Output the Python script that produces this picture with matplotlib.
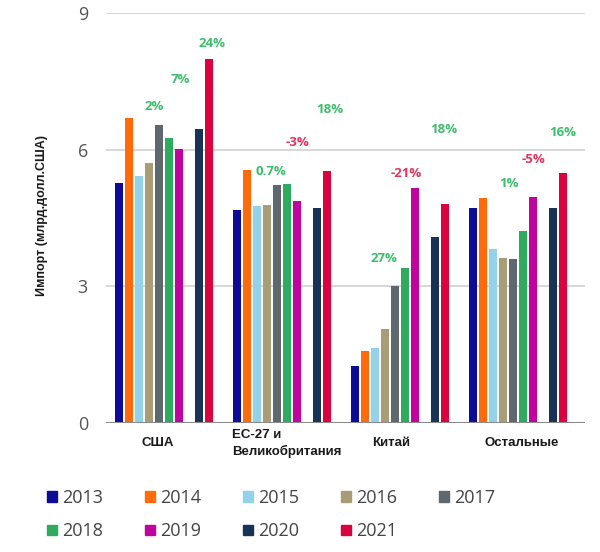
import matplotlib.pyplot as plt
from matplotlib.patches import Patch

# data
regions = ["США", "ЕС-27 и\nВеликобритания", "Китай", "Остальные"]
years = ["2013", "2014", "2015", "2016", "2017", "2018", "2019", "2020", "2021"]
usa = [5.26, 6.69, 5.42, 5.70, 6.54, 6.25, 6.01, 6.45, 8.00]
eu = [4.67, 5.55, 4.76, 4.78, 5.22, 5.24, 4.87, 4.71, 5.53]
china = [1.25, 1.58, 1.64, 2.06, 3.00, 3.40, 5.15, 4.08, 4.80]
other = [4.71, 4.93, 3.81, 3.62, 3.60, 4.21, 4.96, 4.73, 5.48]
values = [usa, eu, china, other]

# growth labels per region: (text, x offset in group, y)
growth = [
    [("2%", -0.085, 6.95), ("7%", 0.136, 7.54), ("24%", 0.407, 8.33)],
    [("0.7%", -0.093, 5.53), ("-3%", 0.136, 6.16), ("18%", 0.407, 6.89)],
    [("27%", -0.136, 3.62), ("-21%", 0.059, 5.48), ("18%", 0.373, 6.45)],
    [("1%", -0.076, 5.26), ("-5%", 0.136, 5.79), ("16%", 0.381, 6.38)],
]

colors = ["#0c0c96", "#ff6a0a", "#93d2e8", "#a89d76", "#5e686e",
          "#2fab5f", "#c0049e", "#173457", "#d9043f"]
green = "#3cbd6c"
red = "#e0345c"

fig = plt.figure(figsize=(6, 5.52), dpi=100)
ax = fig.add_axes([106 / 600, 1 - 423 / 552, 479 / 600, 410 / 552])

slot = 10 / 118
for i, yr in enumerate(years):
    s = i if i < 7 else i + 1
    xs = [g + (s - 4.5) * slot for g in range(len(regions))]
    ax.bar(xs, [v[i] for v in values], width=0.068, color=colors[i], zorder=3)

for g, labs in enumerate(growth):
    for txt, dx, y in labs:
        c = red if txt.startswith("-") else green
        ax.text(g + dx, y, txt, color=c, fontsize=9.5, fontweight="bold",
                ha="center", va="center", family="Open Sans")

ax.set_ylim(0, 9)
ax.set_xlim(-0.49, 3.57)
ax.set_yticks([0, 3, 6, 9])
ax.set_xticks([])
ax.grid(axis="y", color="#d4d4d4", lw=1.3, zorder=0)
ax.axhline(0, color="#8a8a8a", lw=1.5, zorder=4)
for sp in ax.spines.values():
    sp.set_visible(False)
ax.tick_params(axis="y", length=0, pad=13, labelsize=13, labelcolor="#555555")
for t in ax.get_yticklabels():
    t.set_family("Open Sans")

# category labels
lab_pos = [(-0.05, "center"), (-0.42, "left"), (-0.076, "center"), (0.034, "center")]
for g, (dx, ha) in enumerate(lab_pos):
    ax.text(g + dx, -0.45, regions[g], ha=ha, va="center", fontsize=9.5,
            fontweight="bold", family="Liberation Sans", color="#1a1a1a",
            clip_on=False, linespacing=1.3)

fig.text(42 / 600, 1 - 215 / 552, "Импорт (млрд.долл.США)", rotation=90,
         ha="center", va="center", fontsize=9, fontweight="bold",
         family="Liberation Sans", color="#1a1a1a")

order = [0, 5, 1, 6, 2, 7, 3, 8, 4]
handles = [Patch(color=colors[i], label=years[i]) for i in order]
fig.legend(handles=handles, ncol=5, loc="upper left",
           bbox_to_anchor=(47 / 600, 1 - 489 / 552), frameon=False,
           prop={"family": "Open Sans", "size": 13}, labelcolor="#444444",
           handlelength=0.55, handleheight=0.55, handletextpad=0.3,
           columnspacing=2.3, labelspacing=0.85, borderpad=0, borderaxespad=0)

fig.savefig("out.png", dpi=100)
